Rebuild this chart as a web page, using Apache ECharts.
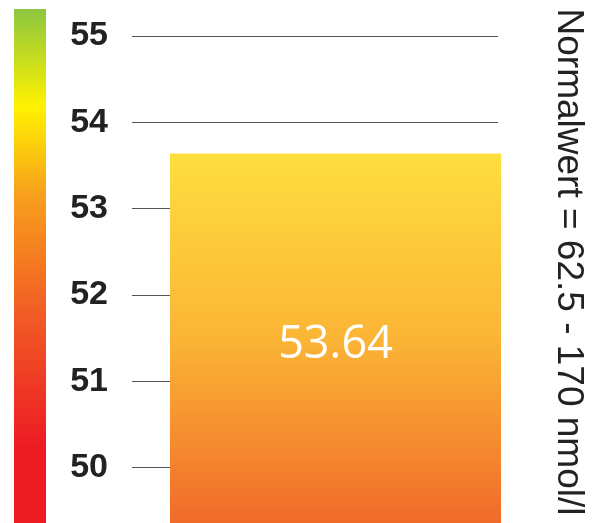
<!DOCTYPE html>
<html>
<head>
<meta charset="utf-8">
<script src="https://cdn.jsdelivr.net/npm/echarts@6/dist/echarts.min.js"></script>
<style>html,body{margin:0;padding:0;background:#fff}#c{width:598px;height:523px}</style>
</head>
<body>
<div id="c"></div>
<script>
const categories = ['Wert'];
const values = [53.64];
const yMin = 49.36, yMax = 55;
const sideNote = 'Normalwert = 62.5 - 170 nmol/l';

const chart = echarts.init(document.getElementById('c'), null, {renderer: 'canvas'});

chart.setOption({
  animation: false,
  grid: [
    {left: 132, right: 100, top: 36, bottom: 0, containLabel: false},
    {left: 170, right: 97, top: 36, bottom: 0, containLabel: false}
  ],
  xAxis: [
    {gridIndex: 0, type: 'category', data: categories, show: false},
    {gridIndex: 1, type: 'category', data: categories, show: false}
  ],
  yAxis: [
    {gridIndex: 0, type: 'value', min: yMin, max: yMax, splitNumber: 5,
     axisLine: {show: false}, axisTick: {show: false},
     axisLabel: {color: '#222', fontSize: 34, fontWeight: 'bold', fontFamily: 'Liberation Sans', margin: 24,
                 showMinLabel: false},
     splitLine: {showMinLine: false, lineStyle: {color: '#555', width: 1}}},
    {gridIndex: 1, type: 'value', min: yMin, max: yMax, show: false,
     splitLine: {show: false}}
  ],
  series: [{
    type: 'bar', xAxisIndex: 1, yAxisIndex: 1,
    data: values, barWidth: '100%',
    itemStyle: {
      color: new echarts.graphic.LinearGradient(0, 0, 0, 1, [
        {offset: 0, color: '#fede3f'},
        {offset: 0.5, color: '#fbb535'},
        {offset: 1, color: '#f16a2a'}
      ])
    },
    label: {show: true, position: 'inside', offset: [0, 7], color: '#fff', fontSize: 45,
            fontFamily: 'Open Sans', formatter: p => p.value.toFixed(2)}
  }],
  graphic: [
    {type: 'rect', left: 14, top: 9, shape: {width: 32, height: 514}, silent: true,
     style: {fill: new echarts.graphic.LinearGradient(0, 0, 0, 1, [
        {offset: 0, color: '#8cc63f'},
        {offset: 0.19, color: '#fff200'},
        {offset: 0.36, color: '#f8a01c'},
        {offset: 0.6, color: '#f15a25'},
        {offset: 0.85, color: '#ed1c24'},
        {offset: 1, color: '#ed1c24'}
     ])}},
    {type: 'text', x: 568, y: 262, rotation: -Math.PI / 2, silent: true,
     style: {text: sideNote, fill: '#222', fontSize: 37, fontFamily: 'Liberation Sans',
             align: 'center', verticalAlign: 'middle'}}
  ]
});
</script>
</body>
</html>
